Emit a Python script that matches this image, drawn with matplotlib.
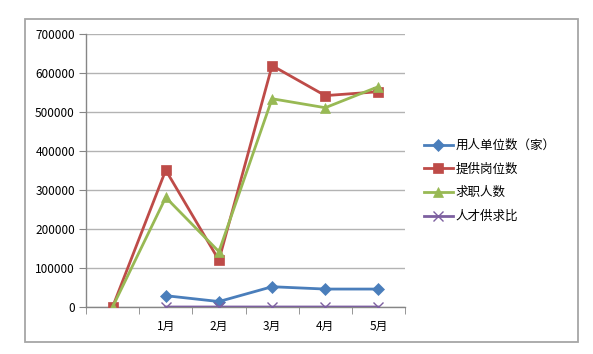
import numpy as np
import matplotlib
matplotlib.use("Agg")
import matplotlib.pyplot as plt
from matplotlib.patches import Rectangle

plt.rcParams['font.family'] = ['Noto Sans CJK SC', 'DejaVu Sans']

categories = ["", "1月", "2月", "3月", "4月", "5月"]
employers = [np.nan, 29000, 14000, 52000, 46000, 46000]
jobs = [0, 351000, 120000, 619000, 542000, 552000]
seekers = [0, 281000, 142000, 534000, 511000, 565000]
ratio = [np.nan, 0.9, 1.2, 1.1, 1.0, 1.1]

series = [
    ("用人单位数（家）", employers, "#4a7ebb", "D", 6),
    ("提供岗位数", jobs, "#be4b48", "s", 7),
    ("求职人数", seekers, "#98b954", "^", 7),
    ("人才供求比", ratio, "#7d60a0", "x", 7),
]

fig = plt.figure(figsize=(5.93, 3.54), dpi=100)
ax = fig.add_axes([86/593, 1-307/354, (405-86)/593, (307-34)/354])

x = np.arange(len(categories))
for name, vals, col, mk, ms in series:
    ax.plot(x, vals, color=col, marker=mk, markersize=ms, linewidth=2.0,
            label=name, markeredgecolor=col, markeredgewidth=1.0 if mk == "x" else 0.5,
            zorder=3)

ax.set_xlim(-0.5, len(categories) - 0.5)
ax.set_ylim(0, 700000)
ax.set_yticks(np.arange(0, 700001, 100000))
ax.set_yticklabels([str(v) for v in range(0, 700001, 100000)])
ax.set_xticks(x)
ax.set_xticklabels(categories)
ax.set_xticks(np.arange(-0.5, len(categories), 1.0), minor=True)
ax.tick_params(axis='x', which='major', length=0, pad=9, labelsize=8.5)
ax.tick_params(axis='x', which='minor', length=5, color='#868686', direction='out')
ax.tick_params(axis='y', length=5, color='#868686', labelsize=8.5, pad=3)
ax.grid(axis='y', color='#b3b3b3', linewidth=1.0)
ax.set_axisbelow(True)
for s in ['top', 'right']:
    ax.spines[s].set_visible(False)
for s in ['left', 'bottom']:
    ax.spines[s].set_color('#868686')
    ax.spines[s].set_linewidth(1.0)

leg = fig.legend(loc='center left', bbox_to_anchor=(424/593, 1-181/354), frameon=False,
                 fontsize=9, handlelength=2.3, handletextpad=0.25, labelspacing=0.85,
                 borderpad=0, borderaxespad=0)

fig.patches.append(Rectangle((25/593, 1-342/354), (578-25)/593, (342-19)/354,
                             transform=fig.transFigure, fill=False,
                             edgecolor='#a6a6a6', linewidth=1.3))

fig.savefig("out.png", dpi=100)
